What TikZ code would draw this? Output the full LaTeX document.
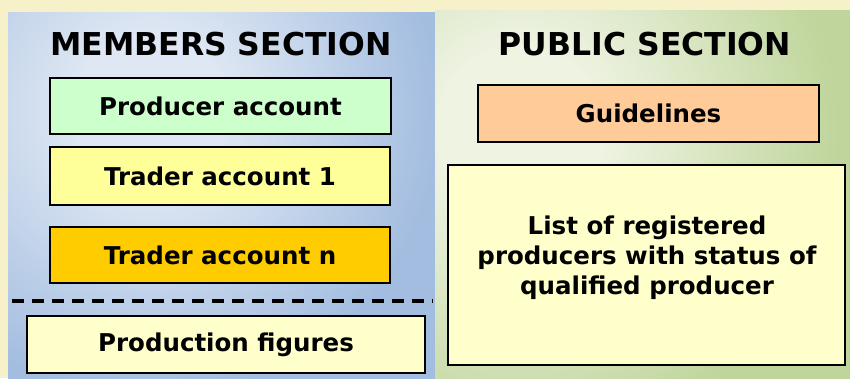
\documentclass[tikz,border=0pt]{standalone}
\usepackage{fontspec}
\setmainfont{DejaVu Sans}
\definecolor{bgyellow}{HTML}{F7F1C9}
\definecolor{blueedge}{HTML}{A3BDE0}
\definecolor{bluemid}{HTML}{DEE7F3}
\definecolor{greenedge}{HTML}{BFD59B}
\definecolor{greenmid}{HTML}{EEF3E2}
\definecolor{boxgreen}{HTML}{CCFFCC}
\definecolor{boxyellow}{HTML}{FFFF99}
\definecolor{boxgold}{HTML}{FFCC00}
\definecolor{boxpale}{HTML}{FFFFCC}
\definecolor{boxpeach}{HTML}{FFCC99}
\pgfdeclareradialshading{bluerad}{\pgfpoint{0bp}{0bp}}{color(0bp)=(bluemid); color(5bp)=(bluemid); color(19bp)=(blueedge); color(50bp)=(blueedge)}
\pgfdeclareradialshading{greenrad}{\pgfpoint{0bp}{0bp}}{color(0bp)=(greenmid); color(5bp)=(greenmid); color(19bp)=(greenedge); color(50bp)=(greenedge)}
\tikzset{
  box/.style={draw=black, line width=2pt, font=\bfseries\fontsize{24.5}{30}\selectfont, align=center, inner sep=0pt},
  title/.style={font=\bfseries\fontsize{31.5}{36}\selectfont},
}
\begin{document}
\begin{tikzpicture}[x=1pt,y=-1pt]
\useasboundingbox (0,0) rectangle (850,378);
\fill[bgyellow] (0,0) rectangle (850,378);
% panels
\begin{scope}
\clip (8,12) rectangle (435,390);
\fill[blueedge] (8,12) rectangle (435,390);
\shade[shading=bluerad] (150,110) circle (380);
\end{scope}
\begin{scope}
\clip (435,10) rectangle (860,390);
\fill[greenedge] (435,10) rectangle (860,390);
\shade[shading=greenrad] (520,130) circle (420);
\end{scope}
% titles
\node[title] (mtitle) at (221,44) {MEMBERS SECTION};
\node[title] (ptitle) at (645,44) {PUBLIC SECTION};
% members boxes
\node[box, fill=boxgreen, minimum width=341pt, minimum height=56pt] (prod) at (220.5,106) {Producer account};
\node[box, fill=boxyellow, minimum width=340pt, minimum height=58pt] (trader1) at (220,176) {Trader account 1};
\node[box, fill=boxgold, minimum width=340pt, minimum height=56pt] (tradern) at (220,255) {Trader account n};
\coordinate (dl) at (12,301);
\coordinate (dr) at (433,301);
\draw[line width=3.2pt, dash pattern=on 12pt off 8pt] (dl) -- (dr);
\node[box, fill=boxpale, minimum width=398pt, minimum height=57pt] (figs) at (226,344.5) {Production figures};
% public boxes
\node[box, fill=boxpeach, minimum width=341pt, minimum height=57pt] (guide) at (648.5,113.5) {Guidelines};
\node[box, fill=boxpale, minimum width=397pt, minimum height=200pt] (list) at (646.5,265) {};
\node[font=\bfseries\fontsize{24.5}{30}\selectfont, align=center] (listtext) at (647,258) {List of registered\\producers with status of\\qualified producer};
\end{tikzpicture}
\end{document}
